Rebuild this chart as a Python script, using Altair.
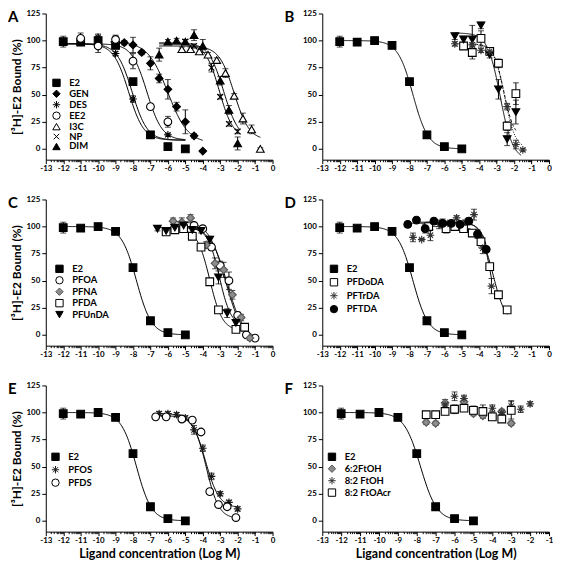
import numpy as np
import pandas as pd
import altair as alt

FONT = "Lato"
ASTER = "M0,-1L0,1M-1,0L1,0M-0.7,-0.7L0.7,0.7M-0.7,0.7L0.7,-0.7"
XCROSS = "M-0.75,-0.75L0.75,0.75M-0.75,0.75L0.75,-0.75"

# ---------------- data (log M, % bound, SEM) ----------------
E2_X = [-12, -11, -10, -9, -8, -7, -6, -5]
E2_Y = [99, 98.5, 100, 95.5, 62, 13, 2, 0]
E2_E = [5, 1, 2, 1, 2, 1, 1, 1]

# Panel A
GEN_X = [-8.5, -8, -7.5, -7, -6.5, -6, -5.5, -5, -4.5, -4]
GEN_Y = [98, 96, 89, 79, 65, 55, 39, 25, 12, -2]
GEN_E = [2, 7, 2, 6, 4, 9, 4, 11, 2, 1]
DES_X = [-10, -9, -8, -6]
DES_Y = [103, 88, 46, 13]
DES_E = [3, 2, 3, 1]
EE2_X = [-11, -10, -9, -8, -7, -6]
EE2_Y = [102, 95, 101, 81, 39, 25]
EE2_E = [5, 6, 4, 7, 2, 5]
I3C_X = [-5.2, -4.7, -4.2, -3.7, -3.2, -2.7, -2.2, -1.7, -1.2, -0.7]
I3C_Y = [92, 92, 90, 87, 82, 70, 49, 28, 18, 0]
I3C_E = [2, 2, 2, 2, 2, 4, 2, 5, 4, 1]
NP_X = [-5.0, -4.5, -3.5, -3.0, -2.5, -2.0]
NP_Y = [99, 95, 75, 48, 23, 16]
NP_E = [2, 2, 4, 2, 2, 2]
DIM_X = [-6.5, -6, -5.5, -5, -4.5, -4, -3, -2.5, -2]
DIM_Y = [87, 99, 100, 99, 105, 95, 63, 36, 5]
DIM_E = [6, 2, 2, 2, 5, 6, 4, 4, 6]

# Panel B
PFPA_X = [-4.9, -4.4, -3.9, -3.4, -2.9, -2.4, -1.9]
PFPA_Y = [95, 89, 102, 90, 79, 21, 51]
PFPA_E = [3, 6, 7, 3, 4, 4, 10]
PFHXA_X = [-5.4, -4.9, -4.4, -3.9, -3.4, -2.9, -2.4, -1.9]
PFHXA_Y = [104, 101, 101, 114, 87, 55, 9, 34]
PFHXA_E = [3, 3, 13, 3, 3, 9, 6, 11]
PFHPA_X = [-5.4, -4.4, -3.9, -3.4, -2.4, -1.9, -1.5]
PFHPA_Y = [97, 96, 91, 90, 39, 4, -1]
PFHPA_E = [2, 2, 2, 2, 3, 4, 1]

# Panel C
PFOA_X = [-4.5, -4.0, -3.5, -3.0, -2.5, -2.0, -1.5, -1.0]
PFOA_Y = [101, 98, 81, 64, 50, 18, 0, -3]
PFOA_E = [2, 2, 3, 4, 8, 3, 1, 2]
PFNA_X = [-5.7, -5.2, -4.7, -3.8, -3.3, -2.8, -2.3, -1.8, -1.3]
PFNA_Y = [105, 104, 108, 83, 66, 60, 37, 16, -3]
PFNA_E = [3, 4, 3, 3, 5, 7, 4, 3, 2]
PFDA_X = [-6.1, -5.6, -5.1, -4.6, -4.1, -3.6, -3.1, -2.1, -1.6]
PFDA_Y = [95, 97, 98, 91, 81, 49, 23, 5, 7]
PFDA_E = [2, 2, 2, 2, 2, 2, 2, 2, 2]
PFUNDA_X = [-6.6, -6.1, -5.6, -5.1, -4.6, -4.1, -3.6, -3.1, -2.6, -2.1]
PFUNDA_Y = [98, 96, 99, 101, 97, 96, 88, 53, 20, 11]
PFUNDA_E = [2, 2, 3, 3, 2, 2, 3, 6, 4, 3]

# Panel D
PFDODA_X = [-6.9, -5.9, -5.4, -4.9, -4.4, -3.9, -3.4, -2.9, -2.4]
PFDODA_Y = [100, 98, 100, 98, 94, 86, 63, 37, 23]
PFDODA_E = [4, 4, 2, 2, 2, 5, 3, 2, 1]
PFTRDA_X = [-7.8, -7.3, -6.8, -6.3, -5.8, -5.3, -4.8, -4.3, -3.8, -3.3]
PFTRDA_Y = [90, 88, 92, 102, 103, 108, 104, 111, 80, 45]
PFTRDA_E = [4, 1, 5, 4, 2, 2, 2, 5, 5, 7]
PFTDA_X = [-8.1, -7.6, -7.1, -6.6, -6.1, -5.6, -5.1, -4.6, -4.1, -3.6]
PFTDA_Y = [102, 106, 98, 105, 103, 103, 102, 105, 93, 79]
PFTDA_E = [2, 2, 4, 2, 4, 2, 2, 3, 4, 2]

# Panel E
PFOS_X = [-6.5, -6, -5.5, -5, -4.5, -4, -3.5, -3, -2.5, -2]
PFOS_Y = [99, 99, 98, 95, 84, 67, 41, 25, 17, 11]
PFOS_E = [2, 2, 2, 2, 4, 3, 3, 2, 2, 2]
PFDS_X = [-6.7, -6.1, -5.2, -4.6, -4.1, -3.6, -3.1, -2.6, -2.1]
PFDS_Y = [96, 96, 94, 93, 82, 27, 15, 13, 3]
PFDS_E = [1, 1, 2, 2, 2, 2, 2, 2, 1]

# Panel F
FT62_X = [-7.5, -7, -6.5, -5.5, -5, -4.5, -4, -3.5, -3]
FT62_Y = [91, 90, 109, 110, 99, 97, 98, 101, 90]
FT62_E = [2, 2, 3, 3, 2, 2, 2, 2, 2]
FT82_X = [-6.5, -6, -5.5, -4, -3.5, -3, -2.5, -2]
FT82_Y = [107, 115, 113, 104, 100, 106, 103, 108]
FT82_E = [3, 4, 3, 3, 2, 5, 3, 2]
FTACR_X = [-7.5, -7, -6.5, -6, -5.5, -5, -4.5, -4, -3.5, -3]
FTACR_Y = [98, 98, 101, 103, 104, 102, 101, 96, 94, 102]
FTACR_E = [2, 2, 3, 4, 3, 4, 6, 3, 2, 8]

# fitted curve parameters: top, bottom, logIC50, hill, x start, x end
E2_FIT = (100, 0, -7.8, 1.0, -12, -5)

# marker style: shape, fill, stroke
STYLE = {
    "E2": ("square", "black", "black"),
    "GEN": ("diamond", "black", "black"),
    "DES": (ASTER, "black", "black"),
    "EE2": ("circle", "white", "black"),
    "I3C": ("triangle-up", "white", "black"),
    "NP": (XCROSS, "black", "black"),
    "DIM": ("triangle-up", "black", "black"),
    "PFPA": ("square", "white", "black"),
    "PFHxA": ("triangle-down", "black", "black"),
    "PFHpA": (ASTER, "#333333", "#333333"),
    "PFOA": ("circle", "white", "black"),
    "PFNA": ("diamond", "#8c8c8c", "#555555"),
    "PFDA": ("square", "white", "black"),
    "PFUnDA": ("triangle-down", "black", "black"),
    "PFDoDA": ("square", "white", "black"),
    "PFTrDA": (ASTER, "#333333", "#333333"),
    "PFTDA": ("circle", "black", "black"),
    "PFOS": (ASTER, "#1a1a1a", "#1a1a1a"),
    "PFDS": ("circle", "white", "black"),
    "6:2FtOH": ("diamond", "#8c8c8c", "#555555"),
    "8:2 FtOH": (ASTER, "#333333", "#333333"),
    "8:2 FtOAcr": ("square", "white", "black"),
}

W, H = 228, 147
YTITLE = "[³H]-E2 Bound (%)"
XTITLE = "Ligand concentration (Log M)"


def build_panel(letter, series, fits, xmax, leg, ytitle, xtitle, dashes=None):
    rows = []
    for o, (name, xs, ys, es) in enumerate(series):
        for x, y, e in zip(xs, ys, es):
            rows.append(dict(series=name, x=x, y=y, lo=y - e, hi=y + e, err=e, o=o))
    pts = pd.DataFrame(rows)
    crows = []
    for name, (top, bot, ic, h, x0, x1) in fits.items():
        for x in np.linspace(x0, x1, 160):
            crows.append(dict(series=name, x=x, y=bot + (top - bot) / (1 + 10 ** ((x - ic) * h))))
    cur = pd.DataFrame(crows)
    names = [s[0] for s in series]

    majors = list(range(-13, xmax + 1))
    minors = [i + float(np.log10(k)) for i in range(-13, xmax) for k in range(2, 10)]
    is_major = "abs(datum.value - round(datum.value)) < 0.001"
    xscale = alt.Scale(domain=[-13, xmax], nice=False, zero=False)
    yscale = alt.Scale(domain=[-10, 125], nice=False, zero=False)
    xaxis = alt.Axis(
        values=majors + minors, title=xtitle, grid=False,
        labelExpr=f"{is_major} ? '' + round(datum.value) : ''",
        tickSize={"condition": {"test": is_major, "value": 4}, "value": 2},
        labelOverlap=False, labelFlush=False, labelPadding=1,
        labelFontSize=8, titleFontSize=12.5, titlePadding=3,
    )
    yaxis = alt.Axis(values=[0, 25, 50, 75, 100, 125], title=ytitle, grid=False,
                     tickSize=4, labelPadding=2, labelFontSize=8,
                     titleFontSize=12, titlePadding=3)
    xenc = alt.X("x:Q", scale=xscale, axis=xaxis)

    lx, ly, rp = leg
    legend = alt.Legend(title=None, orient="none", legendX=lx, legendY=ly,
                        labelFont=FONT, labelFontSize=9.5, labelFontWeight="bold",
                        labelColor="black", symbolSize=55, rowPadding=rp,
                        labelOffset=8, padding=0, symbolStrokeWidth=1)

    line_enc = dict(x=xenc, y=alt.Y("y:Q", scale=yscale, axis=yaxis), detail="series:N")
    if dashes:
        dn = list(dashes.keys())
        line_enc["strokeDash"] = alt.StrokeDash(
            "series:N", scale=alt.Scale(domain=dn, range=[dashes[n] for n in dn]), legend=None)
    lines = alt.Chart(cur).mark_line(color="black", strokeWidth=1).encode(**line_enc)

    eb = pts[pts.err > 0]
    rules = alt.Chart(eb).mark_rule(color="black", strokeWidth=1).encode(
        x=xenc, y=alt.Y("lo:Q", scale=yscale, axis=yaxis), y2="hi:Q")
    cap_hi = alt.Chart(eb).mark_tick(color="black", thickness=1, size=6, orient="horizontal").encode(
        x=xenc, y=alt.Y("hi:Q", scale=yscale, axis=yaxis))
    cap_lo = alt.Chart(eb).mark_tick(color="black", thickness=1, size=6, orient="horizontal").encode(
        x=xenc, y=alt.Y("lo:Q", scale=yscale, axis=yaxis))

    points = alt.Chart(pts).mark_point(filled=True, size=60, opacity=1, strokeWidth=1.1).encode(
        x=xenc, y=alt.Y("y:Q", scale=yscale, axis=yaxis),
        shape=alt.Shape("series:N", scale=alt.Scale(domain=names, range=[STYLE[n][0] for n in names]), legend=legend),
        fill=alt.Fill("series:N", scale=alt.Scale(domain=names, range=[STYLE[n][1] for n in names]), legend=legend),
        stroke=alt.Stroke("series:N", scale=alt.Scale(domain=names, range=[STYLE[n][2] for n in names]), legend=legend),
        order=alt.Order("o:Q"),
    )
    label = alt.Chart(pd.DataFrame({"t": [letter]})).mark_text(
        align="left", baseline="top", font=FONT, fontSize=15, fontWeight="bold", color="black"
    ).encode(x=alt.value(-38), y=alt.value(-3), text="t:N")

    return alt.layer(lines, rules, cap_hi, cap_lo, points, label).properties(width=W, height=H)


e2 = ("E2", E2_X, E2_Y, E2_E)

pA = build_panel(
    "A",
    [e2, ("GEN", GEN_X, GEN_Y, GEN_E), ("DES", DES_X, DES_Y, DES_E), ("EE2", EE2_X, EE2_Y, EE2_E),
     ("I3C", I3C_X, I3C_Y, I3C_E), ("NP", NP_X, NP_Y, NP_E), ("DIM", DIM_X, DIM_Y, DIM_E)],
    {"E2": (97, 8, -8.05, 1.0, -12, -5), "DES": (97, 8, -8.25, 1.0, -12, -5),
     "EE2": (97, 8, -7.2, 1.0, -12, -5), "GEN": (99, 5, -6.0, 0.75, -9.3, -4),
     "NP": (97, 10, -3.05, 1.1, -6.5, -2), "DIM": (98, 8, -2.8, 1.0, -6.5, -1.9),
     "I3C": (95, 8, -2.2, 1.0, -6.5, -0.7)},
    0, (6, 65, -1), YTITLE, None)

pB = build_panel(
    "B",
    [e2, ("PFPA", PFPA_X, PFPA_Y, PFPA_E), ("PFHxA", PFHXA_X, PFHXA_Y, PFHXA_E),
     ("PFHpA", PFHPA_X, PFHPA_Y, PFHPA_E)],
    {"E2": E2_FIT, "PFPA": (97, 10, -2.6, 1.5, -5.4, -1.9),
     "PFHxA": (107, -10, -2.8, 1.2, -5.4, -1.6), "PFHpA": (97, 0, -2.55, 1.4, -5.4, -1.5)},
    0, (7, 65, -2), None, None,
    dashes={"E2": [1, 0], "PFPA": [3, 2], "PFHxA": [1, 0], "PFHpA": [1, 1.5]})

pC = build_panel(
    "C",
    [e2, ("PFOA", PFOA_X, PFOA_Y, PFOA_E), ("PFNA", PFNA_X, PFNA_Y, PFNA_E),
     ("PFDA", PFDA_X, PFDA_Y, PFDA_E), ("PFUnDA", PFUNDA_X, PFUNDA_Y, PFUNDA_E)],
    {"E2": E2_FIT, "PFOA": (100, -5, -2.6, 0.9, -4.5, -1.0),
     "PFNA": (105, -5, -2.7, 0.9, -5.7, -1.3), "PFDA": (98, 4, -3.6, 1.2, -6.1, -1.6),
     "PFUnDA": (99, 8, -3.05, 1.3, -6.6, -2.1)},
    0, (9, 65, -0.5), YTITLE, None)

pD = build_panel(
    "D",
    [e2, ("PFDoDA", PFDODA_X, PFDODA_Y, PFDODA_E), ("PFTrDA", PFTRDA_X, PFTRDA_Y, PFTRDA_E),
     ("PFTDA", PFTDA_X, PFTDA_Y, PFTDA_E)],
    {"E2": E2_FIT, "PFDoDA": (100, 10, -3.2, 1.2, -6.9, -2.4),
     "PFTrDA": (104, 0, -3.3, 1.5, -7.8, -3.3), "PFTDA": (103, 0, -3.2, 1.5, -8.1, -3.5)},
    0, (7, 65, 1.5), None, None)

pE = build_panel(
    "E",
    [e2, ("PFOS", PFOS_X, PFOS_Y, PFOS_E), ("PFDS", PFDS_X, PFDS_Y, PFDS_E)],
    {"E2": E2_FIT, "PFOS": (99, 12, -3.85, 1.1, -6.5, -2.0), "PFDS": (97, 2, -3.8, 1.2, -6.7, -2.1)},
    0, (5, 67, 1), YTITLE, XTITLE)

pF = build_panel(
    "F",
    [e2, ("6:2FtOH", FT62_X, FT62_Y, FT62_E), ("8:2 FtOH", FT82_X, FT82_Y, FT82_E),
     ("8:2 FtOAcr", FTACR_X, FTACR_Y, FTACR_E)],
    {"E2": E2_FIT},
    -1, (5, 67, 0), None, XTITLE)

IND = dict(shape="independent", fill="independent", stroke="independent",
           strokeDash="independent", x="independent", y="independent")


def row(a, b):
    return alt.hconcat(a, b, spacing=9).resolve_scale(**IND)


chart = alt.vconcat(
    row(pA, pB), row(pC, pD), row(pE, pF),
    spacing=23,
).resolve_scale(**IND).properties(padding=0, background="white").configure_view(
    stroke=None
).configure_axis(
    domainColor="black", tickColor="black", labelColor="black", titleColor="black",
    labelFont=FONT, titleFont=FONT, labelFontWeight="bold", titleFontWeight="bold",
    domainWidth=1, tickWidth=1,
)

chart.save("out.html", embed_options={"renderer": "svg", "actions": False})
